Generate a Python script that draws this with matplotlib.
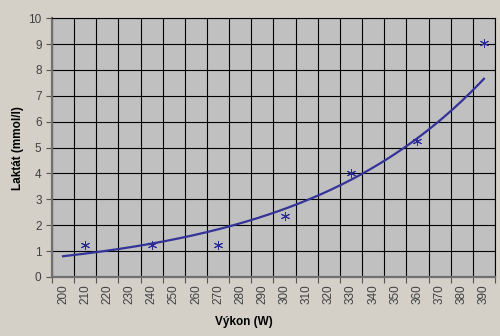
import numpy as np
import matplotlib
matplotlib.use("Agg")
import matplotlib.pyplot as plt

# measured points (W, mmol/l)
vykon = [210, 240, 270, 300, 330, 360, 390]
laktat = [1.25, 1.25, 1.25, 2.35, 4.0, 5.25, 9.05]
categories = list(range(200, 400, 10))

plt.rcParams['font.family'] = ['Liberation Sans', 'DejaVu Sans']

fig = plt.figure(figsize=(5, 3.36), dpi=100, facecolor='#D4D0C8')
ax = fig.add_axes([0.104, 0.1756, 0.886, 0.7704])
ax.set_facecolor('#C0C0C0')

# exponential trendline (least squares on ln y, as Excel does)
b, ln_a = np.polyfit(vykon, np.log(laktat), 1)
xt = np.linspace(categories[0], categories[-1], 200)
ax.plot(xt, np.exp(ln_a + b * xt), color='#333399', lw=1.6, zorder=3)

ax.plot(vykon, laktat, ls='none', marker=(6, 2, 0), ms=6.5, mew=0.7,
        color='#2a2a96', zorder=4)

ax.set_xlim(categories[0] - 5, categories[-1] + 5)
ax.set_ylim(0, 10)

edges = [c - 5 for c in categories] + [categories[-1] + 5]
ax.set_xticks(edges)
ax.set_xticklabels([])
ax.set_xticks(categories, minor=True)
ax.set_xticklabels([str(c) for c in categories], minor=True, rotation=90,
                   fontsize=8.5, color='#404040')
ax.tick_params(axis='x', which='minor', length=0, pad=5)
ax.tick_params(axis='x', which='major', length=4, direction='out', color='#555555')
ax.set_yticks(range(0, 11))
ax.tick_params(axis='y', length=4, direction='out', labelsize=8.5,
               labelcolor='#404040', color='#555555')

ax.grid(True, which='major', color='black', lw=0.8)
ax.set_axisbelow(True)

for s in ['top', 'right']:
    ax.spines[s].set_color('black')
    ax.spines[s].set_linewidth(0.8)
for s in ['left', 'bottom']:
    ax.spines[s].set_color('#707070')
    ax.spines[s].set_linewidth(1.6)

ax.set_xlabel('Výkon (W)', fontsize=8.5, fontweight='bold', va='center')
ax.xaxis.set_label_coords(0.433, -0.174)
ax.set_ylabel('Laktát (mmol/l)', fontsize=8.5, fontweight='bold', va='center')
ax.yaxis.set_label_coords(-0.077, 0.5)

fig.savefig('out.png', dpi=100, facecolor=fig.get_facecolor())
